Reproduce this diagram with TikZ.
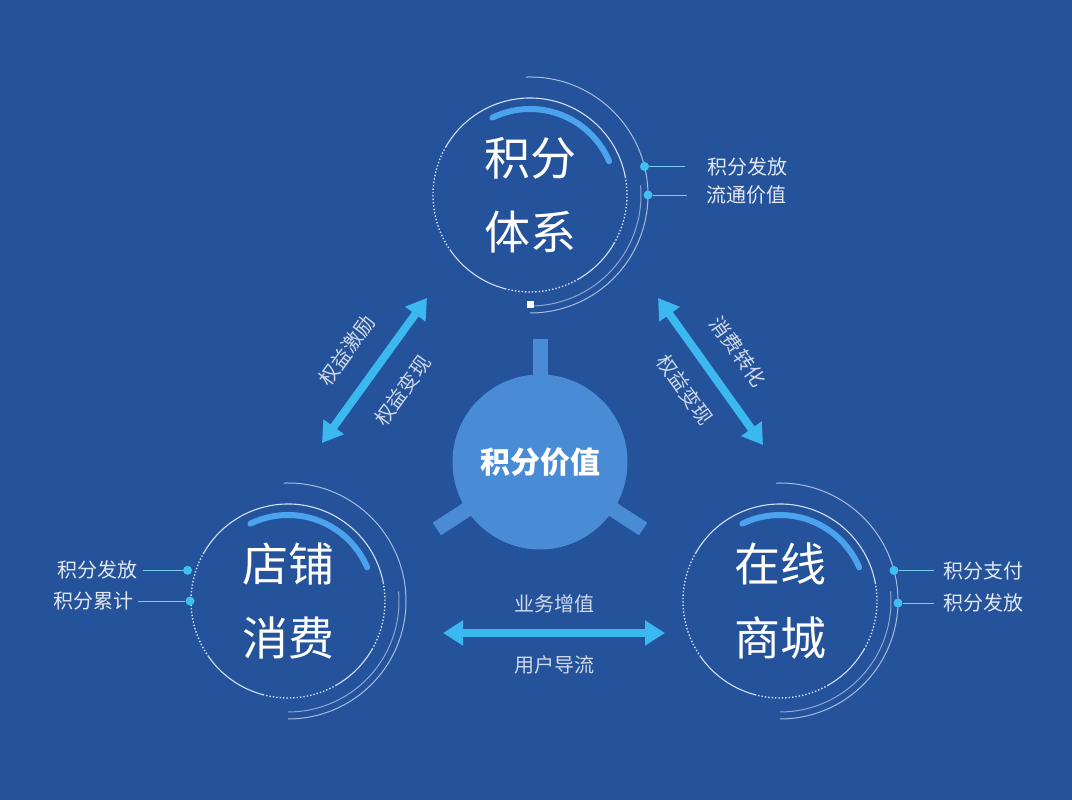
\documentclass[tikz,border=0pt]{standalone}
\usepackage{fontspec}
\setmainfont{Noto Sans CJK SC}
\usetikzlibrary{arrows.meta,positioning}

\definecolor{bgblue}{HTML}{24529B}
\definecolor{hubblue}{HTML}{4A8BD6}
\definecolor{linkcyan}{HTML}{3CB8F0}
\definecolor{ringline}{HTML}{CFE2FA}
\definecolor{arcblue}{HTML}{4AA3EC}
\definecolor{dotcyan}{HTML}{3FC0F0}
\definecolor{labelgrey}{HTML}{E2E8F2}

\begin{document}
\begin{tikzpicture}[
  x=1pt, y=1pt,
  ring/.style={circle, minimum size=194pt, align=center, text=white,
    font=\fontsize{46}{74}\selectfont},
  sidelabel/.style={font=\fontsize{20}{24}\selectfont, text=labelgrey, inner sep=0pt},
  arrowlabel/.style={font=\fontsize{20}{22}\selectfont, text=labelgrey!90!bgblue, inner sep=0pt},
  link/.style={draw=linkcyan, line width=8pt,
    {Triangle[width=24pt,length=20pt]}-{Triangle[width=24pt,length=20pt]}},
  bullet/.style={circle, fill=dotcyan, inner sep=0pt, minimum size=9pt},
  leader/.style={draw=dotcyan!60!ringline, line width=0.8pt},
]
\fill[bgblue] (0,0) rectangle (1072,800);

% hub in the middle
\coordinate (hubc) at (540,338);
\foreach \a in {90,213,327}
  \draw[hubblue, line width=15pt] (hubc) -- ++(\a:123);
\node[circle, fill=hubblue, minimum size=175pt, text=white,
  font=\bfseries\fontsize{30}{32}\selectfont] (hub) at (hubc) {积分价值};

% the three rings
\node[ring] (tixi) at (530,605) {积分\\体系};
\node[ring] (dianpu) at (288,199) {店铺\\消费};
\node[ring] (shangcheng) at (780,199) {在线\\商城};

\foreach \n in {tixi,dianpu,shangcheng}{
  \begin{scope}[shift={(\n.center)}]
    \draw[ringline, line width=1.1pt] (10:97) arc (10:150:97)
      (215:97) arc (215:255:97) (300:97) arc (300:330:97);
    \draw[ringline, line width=1.4pt, dotted] (150:97) arc (150:215:97)
      (255:97) arc (255:300:97) (330:97) arc (330:370:97);
    \draw[arcblue, line width=6pt, line cap=round] (116:86) arc (116:23:86);
    \draw[ringline!75!bgblue, line width=1pt] (92:118) arc (92:-90:118);
    \draw[ringline!60!bgblue, line width=1pt] (5:111) arc (5:-90:111);
  \end{scope}
}
\path (tixi.center) ++(0,-110) node[fill=white, minimum size=7pt, inner sep=0pt] (tixi-mark) {};

% side notes
\path (tixi.center) ++(14:118) node[bullet] (tixi-b1) {};
\path (tixi.center) ++(0:118) node[bullet] (tixi-b2) {};
\node[sidelabel, right=58pt of tixi-b1] (tixi-l1) {积分发放};
\node[sidelabel, right=54pt of tixi-b2] (tixi-l2) {流通价值};
\draw[leader, shorten >=22pt] (tixi-b1) -- (tixi-l1.west);
\draw[leader, shorten >=20pt] (tixi-b2) -- (tixi-l2.west);

\path (dianpu.center) ++(163:105) node[bullet] (dianpu-b1) {};
\path (dianpu.center) ++(180:98) node[bullet] (dianpu-b2) {};
\node[sidelabel, left=45pt of dianpu-b1] (dianpu-l1) {积分发放};
\node[sidelabel, left=52pt of dianpu-b2] (dianpu-l2) {积分累计};
\draw[leader, shorten >=5pt] (dianpu-b1) -- (dianpu-l1.east);
\draw[leader, shorten >=5pt] (dianpu-b2) -- (dianpu-l2.east);

\path (shangcheng.center) ++(15:118) node[bullet] (shangcheng-b1) {};
\path (shangcheng.center) ++(-1:118) node[bullet] (shangcheng-b2) {};
\node[sidelabel, right=45pt of shangcheng-b1] (shangcheng-l1) {积分支付};
\node[sidelabel, right=41pt of shangcheng-b2] (shangcheng-l2) {积分发放};
\draw[leader, shorten >=10pt] (shangcheng-b1) -- (shangcheng-l1.west);
\draw[leader, shorten >=10pt] (shangcheng-b2) -- (shangcheng-l2.west);

% links between the rings
\coordinate (left-a) at (322,357);
\coordinate (left-b) at (427,502);
\coordinate (right-a) at (658,502);
\coordinate (right-b) at (763,355);
\coordinate (base-a) at (443,167);
\coordinate (base-b) at (665,167);
\draw[link] (left-a) -- node[arrowlabel, sloped, above=21pt] (left-up) {权益激励}
  node[arrowlabel, sloped, below=21pt] (left-down) {权益变现} (left-b);
\draw[link] (right-a) -- node[arrowlabel, sloped, above=21pt] (right-up) {消费转化}
  node[arrowlabel, sloped, below=18pt] (right-down) {权益变现} (right-b);
\draw[link] (base-a) -- node[arrowlabel, above=16pt] (base-up) {业务增值}
  node[arrowlabel, below=19pt] (base-down) {用户导流} (base-b);
\end{tikzpicture}
\end{document}
